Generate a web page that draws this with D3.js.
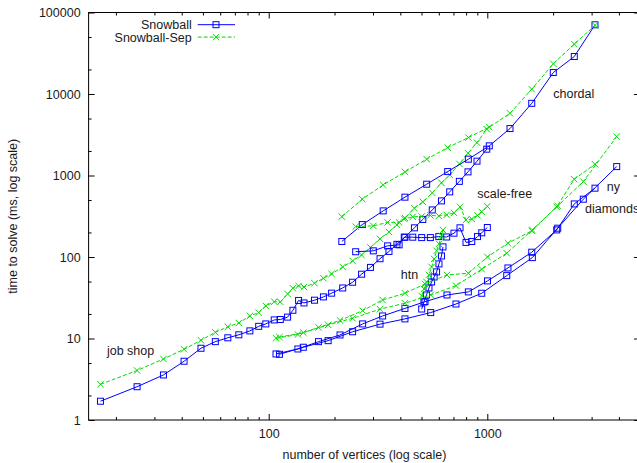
<!DOCTYPE html>
<html><head><meta charset="utf-8">
<script src="https://cdn.jsdelivr.net/npm/d3@7"></script>
<style>
html,body{margin:0;padding:0;background:#fff;}
svg{display:block;}
text{font-family:"Liberation Sans",Arial,Helvetica,sans-serif;font-size:12.5px;fill:#1a1a1a;}
</style></head><body>
<svg id="chart" width="637" height="463"></svg>
<script>
// Benchmark families: instance size (vertices) and solve time (ms)
const jobShopVertices = [17, 25, 33, 41, 49, 57, 65, 73, 82, 90, 97, 106, 113, 122, 129, 137, 145, 162, 178, 194, 218, 242, 266, 292, 323, 355, 386, 420, 464, 507, 560, 617, 673, 745, 816, 897, 994];
const jobShopSnowball = [1.7, 2.56, 3.57, 5.26, 7.59, 9.15, 10.2, 11.1, 12.4, 14.1, 15.1, 16.9, 17.1, 18.3, 22.2, 29.3, 27.3, 29.5, 32.4, 36.0, 41.7, 49.0, 61.5, 74.5, 95.3, 117, 143, 175, 228, 289, 378, 488, 630, 847, 1108, 1499, 2104];
const jobShopSep = [2.74, 4.05, 5.61, 7.38, 9.51, 11.9, 13.9, 15.5, 18.9, 20.8, 25.1, 28.3, 28.1, 35.2, 41.4, 44.2, 42.9, 47.6, 54.9, 62.0, 75.5, 89.5, 106, 131, 167, 203, 248, 302, 397, 475, 612, 812, 1018, 1389, 1879, 2536, 3704];

const chordalVertices = [216, 268, 334, 420, 528, 659, 819, 1021, 1270, 1597, 2004, 2500, 3109];
const chordalSnowball = [155, 250, 368, 542, 782, 1117, 1586, 2310, 3767, 7683, 18340, 28830, 70630];
const chordalSep = [313, 512, 767, 1108, 1586, 2201, 2921, 3920, 5788, 11470, 23460, 40940, 69650];

const scaleFreeVertices = [250, 301, 350, 395, 417, 456, 501, 549, 600, 652, 704, 750, 799, 849, 902, 943, 1000];
const scaleFreeSnowball = [116, 119, 137, 141, 175, 175, 173, 173, 178, 176, 196, 228, 151, 155, 178, 198, 230];
const scaleFreeSep = [236, 241, 266, 266, 293, 311, 315, 324, 319, 329, 348, 412, 285, 293, 324, 358, 418];

const htnVertices = [501, 513, 527, 541, 556, 571, 586, 601, 617, 627];
const htnSnowball = [23.0, 28.1, 34.2, 41.7, 49.4, 56.9, 65.6, 82.3, 103, 133];
const htnSep = [33.3, 40.6, 49.4, 60.3, 75.5, 94.7, 119, 145, 182, 215];

const nyVertices = [108, 136, 169, 212, 269, 332, 420, 519, 654, 819, 1002, 1243, 1597, 2077, 2500, 3109];
const nySnowball = [6.46, 7.44, 9.15, 11.05, 15.1, 18.9, 23.4, 28.3, 34.2, 37.3, 50.9, 73.4, 114.5, 215, 448, 699];
const nySep = [10.07, 11.2, 13.7, 16.65, 22.0, 29.7, 35.9, 46.7, 60.3, 63.2, 100.2, 147.6, 209, 412, 901, 1377];

const diamondsVertices = [112, 144, 187, 242, 323, 420, 551, 719, 943, 1227, 1607, 2099, 2750, 3908];
const diamondsSnowball = [6.40, 7.81, 9.41, 12.1, 15.0, 17.4, 20.8, 26.5, 35.9, 59.1, 98.3, 225.6, 512, 1287];
const diamondsSep = [10.4, 11.8, 14.7, 17.7, 22.9, 27.1, 34.2, 44.5, 70.8, 111.3, 215, 424, 842, 3005];

// Axis ticks
const xMajorTicks = [100, 1000];
const xMinorTicks = [20, 30, 40, 50, 60, 70, 80, 90, 200, 300, 400, 500, 600, 700, 800, 900, 2000, 3000, 4000];
const yMajorTicks = [1, 10, 100, 1000, 10000, 100000];
const yMinorTicks = [2, 5, 20, 50, 200, 500, 2000, 5000, 20000, 50000];

// Family name labels, anchored in data space (vertices, ms)
const familyNames = ["job shop", "htn", "scale-free", "chordal", "ny", "diamonds"];
const familyLabelVertices = [18.2, 402, 900, 2004, 3518, 2798];
const familyLabelTimes = [6.19, 53.1, 524, 8846, 642, 350];

const seriesNames = ["Snowball", "Snowball-Sep"];

const families = [
  {v: jobShopVertices, a: jobShopSnowball, b: jobShopSep},
  {v: chordalVertices, a: chordalSnowball, b: chordalSep},
  {v: scaleFreeVertices, a: scaleFreeSnowball, b: scaleFreeSep},
  {v: htnVertices, a: htnSnowball, b: htnSep},
  {v: nyVertices, a: nySnowball, b: nySep},
  {v: diamondsVertices, a: diamondsSnowball, b: diamondsSep}
];

(function () {
  const BLUE = "#0000ff", GREEN = "#00dd00";
  const svg = d3.select("#chart");
  const mLeft = 88.6, mRight = 640.1, mTop = 12.5, mBottom = 420;

  const x = d3.scaleLog().domain([15, 5000]).range([mLeft, mRight]);
  const y = d3.scaleLog().domain([1, 100000]).range([mBottom, mTop]);

  // Axes: inward ticks on all four sides
  function styleAxis(g) {
    g.select(".domain").remove();
    g.selectAll(".tick line").attr("stroke", "#000").attr("stroke-width", 1);
    g.selectAll("text").attr("font-family", '"Liberation Sans",Arial,sans-serif').attr("font-size", 12.5).attr("fill", "#1a1a1a");
  }
  svg.append("g").attr("transform", `translate(0,${mBottom})`)
    .call(d3.axisBottom(x).tickValues(xMajorTicks).tickSize(-6).tickPadding(9.5).tickFormat(d3.format("d"))).call(styleAxis);
  svg.append("g").attr("transform", `translate(0,${mBottom})`)
    .call(d3.axisBottom(x).tickValues(xMinorTicks).tickSize(-3).tickFormat("")).call(styleAxis);
  svg.append("g").attr("transform", `translate(0,${mTop})`)
    .call(d3.axisTop(x).tickValues(xMajorTicks).tickSize(-6).tickFormat("")).call(styleAxis);
  svg.append("g").attr("transform", `translate(0,${mTop})`)
    .call(d3.axisTop(x).tickValues(xMinorTicks).tickSize(-3).tickFormat("")).call(styleAxis);
  svg.append("g").attr("transform", `translate(${mLeft},0)`)
    .call(d3.axisLeft(y).tickValues(yMajorTicks).tickSize(-6).tickPadding(8).tickFormat(d3.format("d"))).call(styleAxis);
  svg.append("g").attr("transform", `translate(${mLeft},0)`)
    .call(d3.axisLeft(y).tickValues(yMinorTicks).tickSize(-3).tickFormat("")).call(styleAxis);
  svg.append("g").attr("transform", `translate(${mRight},0)`)
    .call(d3.axisRight(y).tickValues(yMajorTicks).tickSize(-6).tickFormat("")).call(styleAxis);

  svg.append("rect").attr("x", mLeft).attr("y", mTop).attr("width", mRight - mLeft).attr("height", mBottom - mTop)
    .attr("fill", "none").attr("stroke", "#000").attr("stroke-width", 1);

  // Axis titles
  svg.append("text").attr("x", 364.5).attr("y", 458.5).attr("text-anchor", "middle")
    .text("number of vertices (log scale)");
  svg.append("text").attr("transform", `translate(16.5,${(mTop + mBottom) / 2}) rotate(-90)`).attr("text-anchor", "middle")
    .text("time to solve (ms, log scale)");

  // Series
  const plot = svg.append("g");
  const line = d3.line().x(d => x(d[0])).y(d => y(d[1]));
  const sq = 6, xs = 3.2;

  function squareAt(g, cx, cy) {
    g.append("rect").attr("x", cx - sq / 2).attr("y", cy - sq / 2).attr("width", sq).attr("height", sq)
      .attr("fill", "none").attr("stroke", BLUE).attr("stroke-width", 1);
  }
  function crossAt(g, cx, cy) {
    g.append("path")
      .attr("d", `M${cx - xs},${cy - xs}L${cx + xs},${cy + xs}M${cx - xs},${cy + xs}L${cx + xs},${cy - xs}`)
      .attr("fill", "none").attr("stroke", GREEN).attr("stroke-width", 1);
  }

  families.forEach(f => {
    const ptsA = f.v.map((v, i) => [v, f.a[i]]);
    const ptsB = f.v.map((v, i) => [v, f.b[i]]);
    const gA = plot.append("g");
    gA.append("path").attr("d", line(ptsA)).attr("fill", "none").attr("stroke", BLUE).attr("stroke-width", 1);
    ptsA.forEach(d => squareAt(gA, x(d[0]), y(d[1])));
    const gB = plot.append("g");
    gB.append("path").attr("d", line(ptsB)).attr("fill", "none").attr("stroke", GREEN)
      .attr("stroke-width", 1).attr("stroke-dasharray", "4,2");
    ptsB.forEach(d => crossAt(gB, x(d[0]), y(d[1])));
  });

  // Family labels
  svg.append("g").selectAll("text").data(familyNames).join("text")
    .attr("x", (d, i) => x(familyLabelVertices[i]))
    .attr("y", (d, i) => y(familyLabelTimes[i]))
    .text(d => d);

  // Legend
  const legend = svg.append("g");
  seriesNames.forEach((name, i) => {
    const ly = 24.7 + i * 12.4;
    legend.append("text").attr("x", 191.7).attr("y", ly + 4.5).attr("text-anchor", "end").text(name);
    const seg = legend.append("path").attr("d", `M197.7,${ly}L235,${ly}`).attr("fill", "none").attr("stroke-width", 1);
    if (i === 0) {
      seg.attr("stroke", BLUE);
      squareAt(legend, 216, ly);
    } else {
      seg.attr("stroke", GREEN).attr("stroke-dasharray", "4,2");
      crossAt(legend, 216, ly);
    }
  });
})();
</script>
</body></html>
